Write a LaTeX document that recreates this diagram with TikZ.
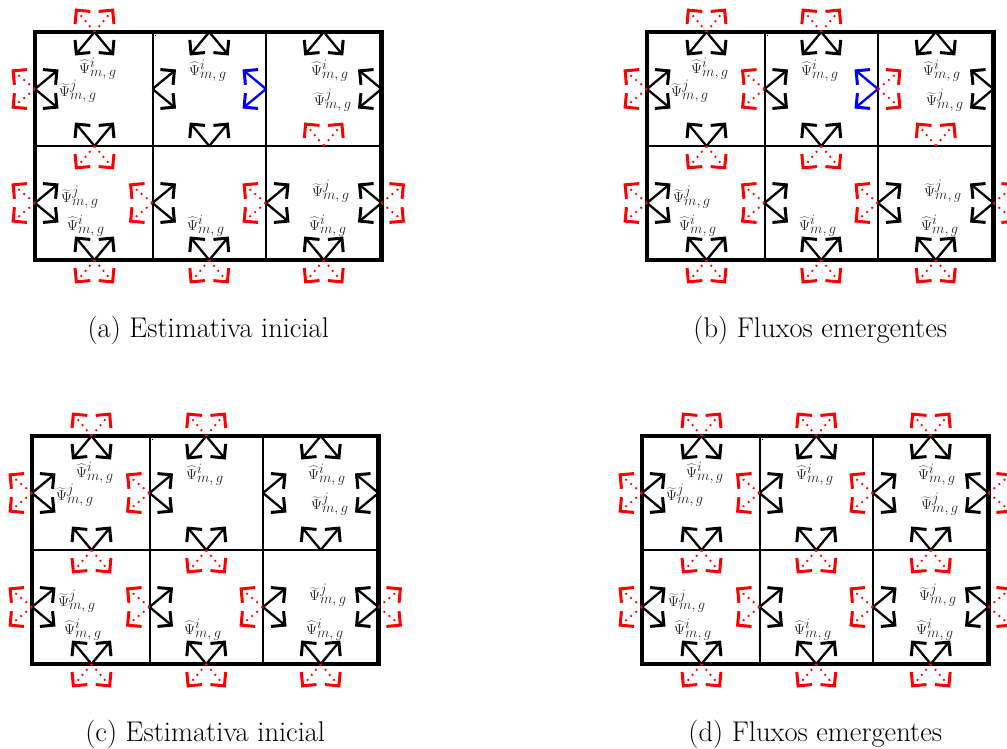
\documentclass[tikz,border=0pt]{standalone}
\usetikzlibrary{arrows.meta}

% half-spread of an arrow pair along the edge, and its reach across the edge
\newcommand\fluxa{19.5}
\newcommand\fluxn{23.5}

\tikzset{
  frame/.style={line width=4.5pt},
  cellline/.style={line width=2pt},
  influx/.style={line width=2.3pt, -{Straight Barb[angle=90:14pt, line width=3pt]}},
  outflux/.style={red, line width=1.8pt, dash pattern=on 1.8pt off 4.8pt,
                  -{Straight Barb[angle=90:14pt, line width=3pt]}},
  sweepflux/.style={influx, blue},
  psilabel/.style={anchor=west, inner sep=0pt, text=black!85,
                   font=\fontsize{15}{17}\selectfont},
  captionlabel/.style={inner sep=0pt, font=\fontsize{28.5}{32}\selectfont},
}

% a pair of flux arrows leaving a point in the given direction
\newcommand\fdown[2]{\draw[#1] (#2) -- ++(-\fluxa,\fluxn); \draw[#1] (#2) -- ++(\fluxa,\fluxn);}
\newcommand\fup[2]{\draw[#1] (#2) -- ++(-\fluxa,-\fluxn); \draw[#1] (#2) -- ++(\fluxa,-\fluxn);}
\newcommand\fright[2]{\draw[#1] (#2) -- ++(\fluxn,-\fluxa); \draw[#1] (#2) -- ++(\fluxn,\fluxa);}
\newcommand\fleft[2]{\draw[#1] (#2) -- ++(-\fluxn,-\fluxa); \draw[#1] (#2) -- ++(-\fluxn,\fluxa);}

\newcommand\psihat{$\widehat{\Psi}^{\textstyle i}_{\textstyle m,g}$}
\newcommand\psitil{$\widetilde{\Psi}^{\textstyle j}_{\textstyle m,g}$}

% 3x2 mesh with edge midpoints, angular flux labels and caption
\newcommand\gridpanel[4]{%
  \begin{scope}[shift={(#2,#3)}]
    \draw[cellline] (117.5,0) -- (117.5,228) (231,0) -- (231,228) (0,114) -- (346.5,114);
    \draw[frame] (0,0) rectangle (346.5,228);
    \fill (120.5,3.5) circle (0.7);
    \foreach \c/\x in {0/59.5,1/174.25,2/288.75}{
      \coordinate (#1-T\c) at (\x,0);
      \coordinate (#1-M\c) at (\x,114);
      \coordinate (#1-B\c) at (\x,228);
    }
    \foreach \k/\x in {0/0,1/117.5,2/231,3/346.5}{
      \coordinate (#1-V\k0) at (\x,57);
      \coordinate (#1-V\k1) at (\x,171);
    }
    \node[psilabel] (#1-h00) at (44,37) {\psihat};
    \node[psilabel] (#1-t00) at (24,59) {\psitil};
    \node[psilabel] (#1-h10) at (154,39) {\psihat};
    \node[psilabel] (#1-h20) at (276,39) {\psihat};
    \node[psilabel] (#1-t20) at (279,68) {\psitil};
    \node[psilabel] (#1-t01) at (26,165) {\psitil};
    \node[psilabel] (#1-h01) at (32,194) {\psihat};
    \node[psilabel] (#1-h11) at (152,194) {\psihat};
    \node[psilabel] (#1-t21) at (277,159) {\psitil};
    \node[psilabel] (#1-h21) at (274,194) {\psihat};
    \node[captionlabel] (#1-cap) at (173.25,298) {#4};
  \end{scope}}

% arrows shared by all four sweeps
\newcommand\commonflux[1]{%
  \fdown{influx}{#1-T0} \fdown{influx}{#1-T1} \fdown{influx}{#1-T2}
  \fright{influx}{#1-V00} \fright{influx}{#1-V10} \fleft{influx}{#1-V30}
  \fup{influx}{#1-M0} \fup{influx}{#1-M1}
  \fright{influx}{#1-V01} \fright{influx}{#1-V11} \fright{influx}{#1-V21} \fleft{influx}{#1-V31}
  \fup{influx}{#1-B0} \fup{influx}{#1-B1} \fup{influx}{#1-B2}
  \fup{outflux}{#1-T0} \fleft{outflux}{#1-V00} \fdown{outflux}{#1-M0}
  \fleft{outflux}{#1-V01} \fleft{outflux}{#1-V11} \fleft{outflux}{#1-V21}
  \fright{outflux}{#1-V31}
  \fdown{outflux}{#1-B0} \fdown{outflux}{#1-B1} \fdown{outflux}{#1-B2}}

\begin{document}
\begin{tikzpicture}[x=1pt,y=-1pt]
  \useasboundingbox (0,0) rectangle (1007,749);

  \gridpanel{a}{35}{32}{(a) Estimativa inicial}
  \gridpanel{b}{647}{32}{(b) Fluxos emergentes}
  \gridpanel{c}{32}{436}{(c) Estimativa inicial}
  \gridpanel{d}{642}{436}{(d) Fluxos emergentes}

  % (a) initial guess
  \commonflux{a}
  \fleft{sweepflux}{a-V20}
  \fup{outflux}{a-M2}

  % (b) emerging fluxes of the centre-top cell
  \commonflux{b}
  \fleft{sweepflux}{b-V20}
  \fup{outflux}{b-M2}
  \fup{outflux}{b-T1} \fright{outflux}{b-V20} \fdown{outflux}{b-M1} \fleft{outflux}{b-V10}

  % (c) initial guess, next cell
  \commonflux{c}
  \fright{influx}{c-V20} \fup{influx}{c-M2}
  \fup{outflux}{c-T1} \fleft{outflux}{c-V10} \fdown{outflux}{c-M1}

  % (d) emerging fluxes of the right-top cell
  \commonflux{d}
  \fright{influx}{d-V20} \fup{influx}{d-M2}
  \fup{outflux}{d-T1} \fleft{outflux}{d-V10} \fdown{outflux}{d-M1}
  \fup{outflux}{d-T2} \fright{outflux}{d-V30} \fdown{outflux}{d-M2} \fleft{outflux}{d-V20}
\end{tikzpicture}
\end{document}
